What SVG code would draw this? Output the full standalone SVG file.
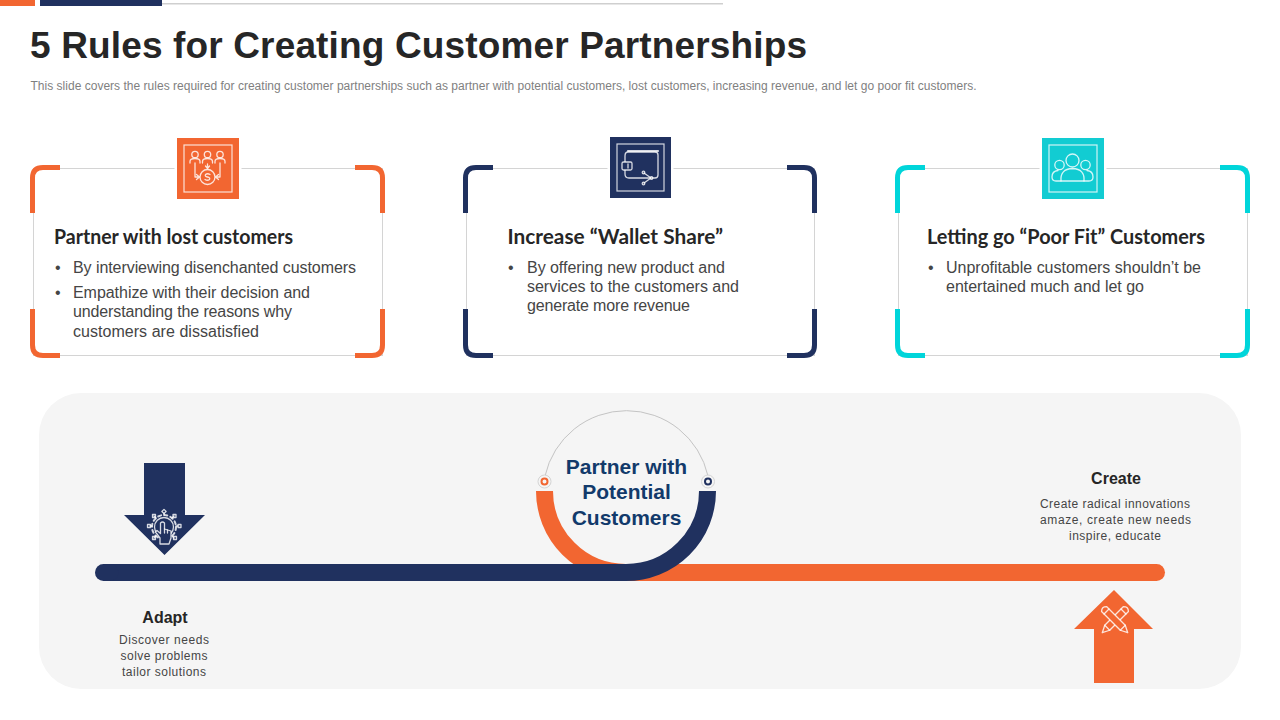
<svg xmlns="http://www.w3.org/2000/svg" width="1280" height="720" viewBox="0 0 1280 720">
<style>
text{font-family:"Liberation Sans",Arial,sans-serif}
.frame{fill:#fff;stroke:#d4d4d4;stroke-width:1}
.br{fill:none;stroke-width:5;stroke-linecap:butt;stroke-linejoin:round}
.h{font-family:Lato,"Liberation Sans",sans-serif;font-size:20px;font-weight:700;fill:#262626}
.b{font-size:16px;fill:#454545}
.sh{font-size:16px;font-weight:700;fill:#262626;text-anchor:middle}
.sm{font-size:12px;fill:#454545;text-anchor:middle}
.ic{fill:none;stroke:#fff;stroke-opacity:.82;stroke-width:1.3;stroke-linecap:round;stroke-linejoin:round}
.icw{fill:none;stroke:#fff;stroke-opacity:.8;stroke-width:1.2}
.o{stroke:#f26631}.n{stroke:#20315f}.c{stroke:#00d5da}
</style>
<rect width="1280" height="720" fill="#fff"/>
<g id="top-bar">
<rect x="0" y="0" width="35" height="6" fill="#f26631"/>
<rect x="40" y="0" width="122" height="6" fill="#20315f"/>
<rect x="162" y="3" width="561" height="1.5" fill="#cfcfcf"/>
</g>
<g id="title">
<text x="30" y="58" font-size="37" font-weight="700" fill="#262626" textLength="777" lengthAdjust="spacing">5 Rules for Creating Customer Partnerships</text>
<text x="30.500" y="90" font-size="12" fill="#7f7f7f" textLength="946" lengthAdjust="spacing">This slide covers the rules required for creating customer partnerships such as partner with potential customers, lost customers, increasing revenue, and let go poor fit customers.</text>
</g>
<g id="card-1">
<rect class="frame" x="33.500" y="168.500" width="349" height="187"/>
<g class="br o">
<path d="M32.500 213V178Q32.500 167.500 43 167.500H60"/>
<path d="M355 167.500H372Q382.500 167.500 382.500 178V213"/>
<path d="M32.500 309V345Q32.500 355.500 43 355.500H60"/>
<path d="M355 355.500H372Q382.500 355.500 382.500 345V309"/>
</g>
<rect x="174.500" y="135.500" width="67" height="66" fill="#fff"/>
<rect x="177" y="138" width="62" height="61" fill="#f26631"/>
<rect class="icw" x="184" y="145" width="48" height="47"/>
<g class="ic">
<circle cx="195" cy="154.500" r="3.200"/><circle cx="207.500" cy="154.500" r="3.200"/><circle cx="220" cy="154.500" r="3.200"/>
<path d="M190 163V161.500Q190 158.500 195 158.500Q200 158.500 200 161.500V163M202.500 163V161.500Q202.500 158.500 207.500 158.500Q212.500 158.500 212.500 161.500V163M215 163V161.500Q215 158.500 220 158.500Q225 158.500 225 161.500V163"/>
<circle cx="207.500" cy="177" r="7.500"/>
<path d="M195 163V177H199M196.500 174.500 199.500 177 196.500 179.500M220 163V177H216M218.500 174.500 215.500 177 218.500 179.500M207.500 164V168M205.500 166 207.500 168.500 209.500 166"/>
<path d="M210 174.500Q207.500 173 205.500 174.500Q204.500 176.500 207.500 177Q210.500 177.500 209.500 179.500Q207.500 181 205 179.500"/>
</g>
<text class="h" x="54" y="243.500" textLength="239" lengthAdjust="spacingAndGlyphs">Partner with lost customers</text>
<text class="b" x="55" y="273">•</text>
<text class="b" x="73" y="273" textLength="283">By interviewing disenchanted customers</text>
<text class="b" x="55" y="298">•</text>
<text class="b" x="73" y="298" textLength="237">Empathize with their decision and</text>
<text class="b" x="73" y="317" textLength="219">understanding the reasons why</text>
<text class="b" x="73" y="337" textLength="186">customers are dissatisfied</text>
</g>
<g id="card-2">
<rect class="frame" x="466.500" y="168.500" width="348" height="187"/>
<g class="br n">
<path d="M465.500 213V178Q465.500 167.500 476 167.500H493"/>
<path d="M787 167.500H804Q814.500 167.500 814.500 178V213"/>
<path d="M465.500 309V345Q465.500 355.500 476 355.500H493"/>
<path d="M787 355.500H804Q814.500 355.500 814.500 345V309"/>
</g>
<rect x="607.500" y="134.500" width="66" height="66" fill="#fff"/>
<rect x="610" y="137" width="61" height="61" fill="#20315f"/>
<rect class="icw" x="617" y="144" width="47" height="47"/>
<g class="ic">
<path d="M628 152H655Q658 152 658 155V175Q658 178 655 178H652M628 152Q625 152 625 156V162M625 170V174Q625 178 629 178H651"/>
<path d="M628 151H658" stroke-width="2.200"/>
<rect x="622" y="162" width="10" height="8" rx="1.500" fill="#20315f"/>
<path d="M628 164V168"/>
<path d="M644 173 651 178 644 183"/>
<circle cx="643.500" cy="172.500" r="1.300"/><circle cx="651.500" cy="178" r="1.300"/><circle cx="643.500" cy="183.500" r="1.300"/>
</g>
<text class="h" x="507.500" y="243.500" textLength="215.500" lengthAdjust="spacingAndGlyphs">Increase “Wallet Share”</text>
<text class="b" x="508" y="273">•</text>
<text class="b" x="527" y="273" textLength="198">By offering new product and</text>
<text class="b" x="527" y="292" textLength="212">services to the customers and</text>
<text class="b" x="527" y="311" textLength="163">generate more revenue</text>
</g>
<g id="card-3">
<rect class="frame" x="898.500" y="168.500" width="349" height="187"/>
<g class="br c">
<path d="M897.500 213V178Q897.500 167.500 908 167.500H925"/>
<path d="M1220 167.500H1237Q1247.500 167.500 1247.500 178V213"/>
<path d="M897.500 309V345Q897.500 355.500 908 355.500H925"/>
<path d="M1220 355.500H1237Q1247.500 355.500 1247.500 345V309"/>
</g>
<rect x="1039.500" y="135.500" width="67" height="66" fill="#fff"/>
<rect x="1042" y="138" width="62" height="61" fill="#12ccd2"/>
<rect class="icw" x="1049" y="145" width="48" height="47"/>
<g class="ic">
<circle cx="1072.500" cy="160.500" r="6.500"/>
<circle cx="1059.500" cy="165" r="4.700"/>
<circle cx="1085.500" cy="165" r="4.700"/>
<path d="M1061 181Q1060 169 1072.500 168.500Q1085 169 1084 181Z"/>
<path d="M1061 181H1056Q1052 181 1052 177Q1052 171 1058 170.500M1084 181H1089Q1093 181 1093 177Q1093 171 1087 170.500"/>
</g>
<text class="h" x="927" y="243.500" textLength="278" lengthAdjust="spacingAndGlyphs">Letting go “Poor Fit” Customers</text>
<text class="b" x="928" y="273">•</text>
<text class="b" x="946" y="273" textLength="255">Unprofitable customers shouldn’t be</text>
<text class="b" x="946" y="292" textLength="198">entertained much and let go</text>
</g>
<rect id="panel" x="39" y="393" width="1202" height="296" rx="42" fill="#f5f5f5"/>
<g id="connectors">
<path d="M626 572.500H1156.500" fill="none" stroke="#f26631" stroke-width="17" stroke-linecap="round"/>
<path d="M544.500 491A81.500 81.500 0 0 0 626 572.500" fill="none" stroke="#f26631" stroke-width="17"/>
<path d="M103.500 572.500H626A81.500 81.500 0 0 0 707.500 491" fill="none" stroke="#20315f" stroke-width="17"/>
<path d="M103.500 572.500H110" fill="none" stroke="#20315f" stroke-width="17" stroke-linecap="round"/>
<path d="M545 476A83.500 83.500 0 0 1 708 476" fill="none" stroke="#c4c4c4" stroke-width="1"/>
</g>
<g id="circle-center">
<circle cx="544.500" cy="481.500" r="6.500" fill="#f5f5f5" stroke="#d4d4d4"/>
<circle cx="544.500" cy="481.500" r="3" fill="none" stroke="#f26631" stroke-width="2"/>
<circle cx="708" cy="481.500" r="6.500" fill="#f5f5f5" stroke="#d4d4d4"/>
<circle cx="708" cy="481.500" r="3" fill="none" stroke="#20315f" stroke-width="2"/>
<g font-size="21" font-weight="700" fill="#123a6b" text-anchor="middle">
<text x="626.500" y="474">Partner with</text>
<text x="626.500" y="499">Potential</text>
<text x="626.500" y="525">Customers</text>
</g>
</g>
<g id="adapt">
<path d="M144 463H185V515H205L164.500 555 124 515H144Z" fill="#20315f"/>
<g class="ic" stroke-width="1">
<circle cx="164" cy="527" r="9.500"/>
<circle cx="164" cy="527" r="12" stroke-width="2" stroke-dasharray="3 3.280"/>
<path d="M164 515V513M152 526H150M176 526H178M156 518 154 516M172 518 174 516M156 536 154 538M172 536 174 538"/>
<rect x="162.500" y="510" width="3" height="3" transform="rotate(45 164 511.500)"/><rect x="147.500" y="524.500" width="3" height="3"/><rect x="178" y="524.500" width="3" height="3"/><rect x="152.500" y="514.500" width="3" height="3"/><rect x="173" y="514.500" width="3" height="3"/><rect x="152.500" y="536.500" width="3" height="3"/><rect x="173.500" y="536.500" width="3" height="3"/>
<path d="M160 544V538L155.500 532L157 530.500L160.500 533.500V523Q162.500 521 164.500 523V529L171 531V538L169 544Z" fill="#20315f"/>
<path d="M164.500 529V533M167.500 530V533"/>
</g>
<text class="sh" x="165" y="623">Adapt</text>
<text class="sm" x="164" y="644" textLength="90">Discover needs</text>
<text class="sm" x="164" y="660" textLength="87">solve problems</text>
<text class="sm" x="164" y="676" textLength="84">tailor solutions</text>
</g>
<g id="create">
<path d="M1094 683V629H1074L1114 590 1153 629H1134V683Z" fill="#f26631"/>
<g class="ic" stroke-width="1.600">
<g transform="translate(1115 620) rotate(45)">
<path d="M-3.500 -15.500Q0 -19 3.500 -15.500V11L0 18L-3.500 11Z" fill="#f26631"/>
<path d="M-3.500 -12H3.500M-3.500 11H3.500"/>
</g>
<g transform="translate(1115 620) rotate(-45)">
<path d="M-3.500 -15.500Q0 -19 3.500 -15.500V11L0 18L-3.500 11Z" fill="#f26631"/>
<path d="M-3.500 -12H3.500M-3.500 11H3.500"/>
</g>
</g>
<text class="sh" x="1116" y="484">Create</text>
<text class="sm" x="1115" y="508" textLength="150">Create radical innovations</text>
<text class="sm" x="1115.500" y="524" textLength="151">amaze, create new needs</text>
<text class="sm" x="1115" y="540" textLength="92">inspire, educate</text>
</g>
</svg>
